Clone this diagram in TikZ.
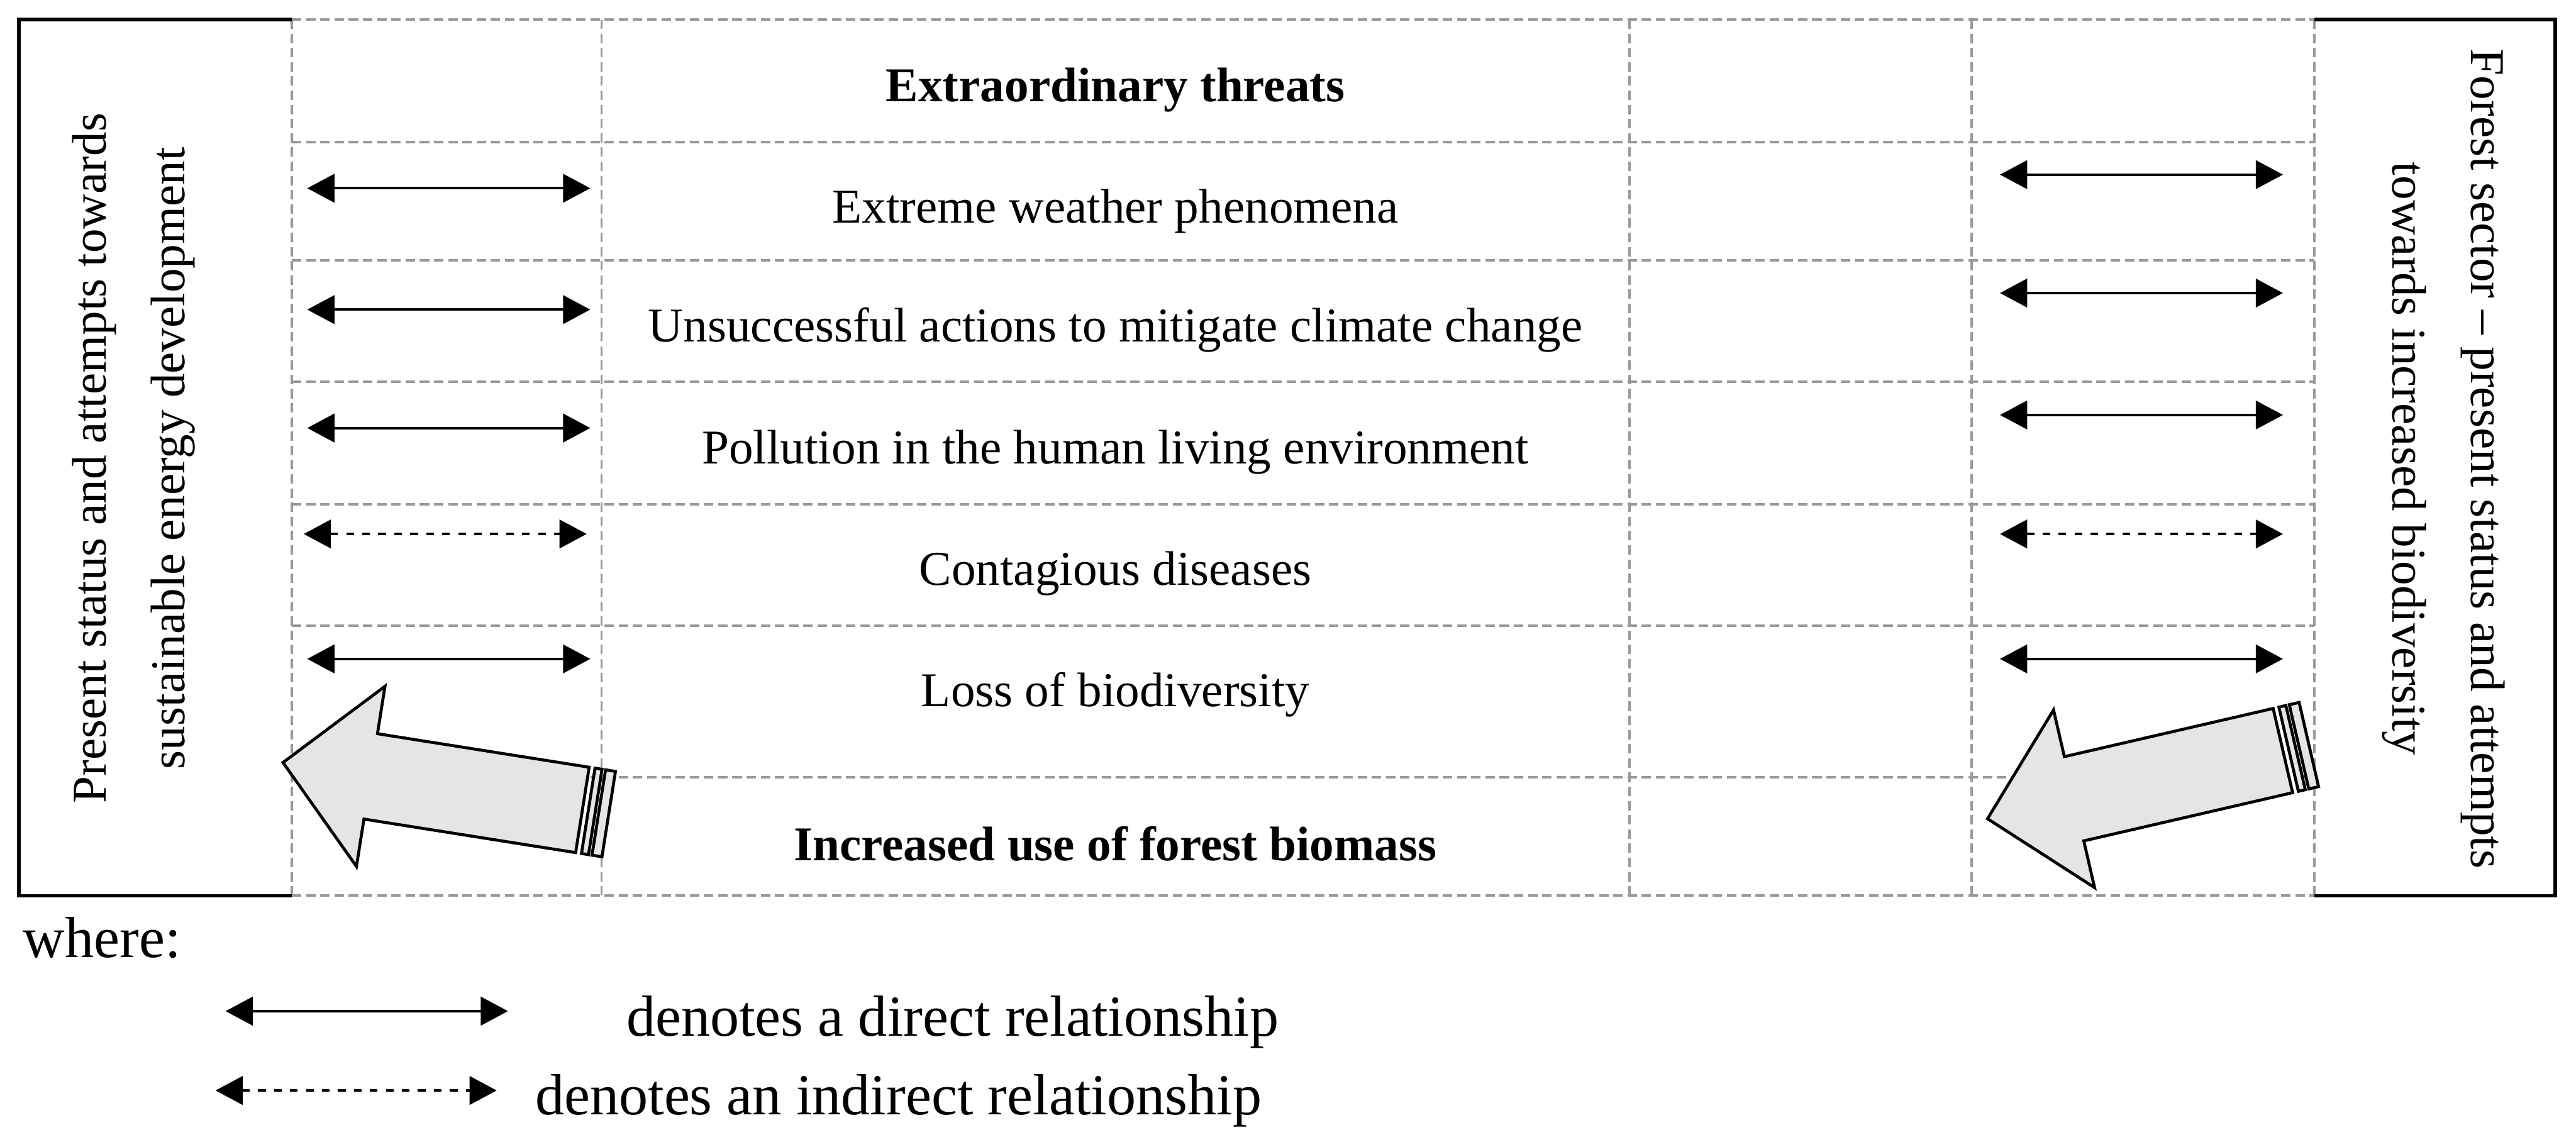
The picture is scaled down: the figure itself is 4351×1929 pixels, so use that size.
\documentclass[tikz,border=0pt]{standalone}
\usepackage{fontspec}
\setmainfont{Liberation Serif}
\usetikzlibrary{arrows.meta}
\begin{document}
\begin{tikzpicture}[x=0.1pt,y=-0.1pt,
  grid/.style={draw=black!40, line width=0.4pt, dash pattern=on 1.6pt off 0.8pt},
  frame/.style={draw=black, line width=0.6pt},
  rel/.style={line width=0.45pt, {Triangle[length=4.6pt,width=4.8pt]}-{Triangle[length=4.6pt,width=4.8pt]}},
  indrel/.style={rel, dash pattern=on 1.3pt off 1.4pt},
  txt/.style={font=\fontsize{8.2}{10}\selectfont, inner sep=0pt, anchor=base},
  hd/.style={txt, font=\fontsize{8.2}{10}\selectfont\bfseries},
  vtxt/.style={font=\fontsize{8.2}{13.3}\selectfont, align=center, inner sep=0pt},
  lgd/.style={font=\fontsize{9.8}{12}\selectfont, inner sep=0pt, anchor=base west},
  bigarrow/.style={draw=black, line width=0.5pt, fill=black!10, line join=miter}
]
\useasboundingbox (0,0) rectangle (4351,1929);

% dashed grid
\foreach \y in {33,240,440,645,852,1057,1313,1513}
  \draw[grid] (493,\y) -- (3909,\y);
\foreach \x in {493,1016,2752,3330,3909}
  \draw[grid] (\x,33) -- (\x,1513);

% solid side boxes
\draw[frame] (493,33) -- (32,33) -- (32,1513) -- (493,1513);
\draw[frame] (3909,33) -- (4316,33) -- (4316,1513) -- (3909,1513);

% side texts
\node[vtxt, rotate=90] (L) at (226,774) {Present status and attempts towards\\sustainable energy development};
\node[vtxt, rotate=-90] (R) at (4127,775) {Forest sector – present status and attempts\\towards increased biodiversity};

% row texts
\node[hd] (t0) at (1884,172) {Extraordinary threats};
\node[txt] (t1) at (1884,377) {Extreme weather phenomena};
\node[txt] (t2) at (1884,577) {Unsuccessful actions to mitigate climate change};
\node[txt] (t3) at (1884,783) {Pollution in the human living environment};
\node[txt] (t4) at (1884,988) {Contagious diseases};
\node[txt] (t5) at (1884,1193) {Loss of biodiversity};
\node[hd] (t6) at (1884,1454) {Increased use of forest biomass};

% big striped arrows
\begin{scope}[shift={(478,1288)}, rotate=-9]
  \draw[bigarrow] (0,0) -- (150,-154) -- (150,-73) -- (512,-73) -- (512,73) -- (150,73) -- (150,154) -- cycle;
  \draw[bigarrow] (522,-73) rectangle (534,73);
  \draw[bigarrow] (540,-73) rectangle (557,73);
\end{scope}
\begin{scope}[shift={(3357,1383)}, rotate=13]
  \draw[bigarrow] (0,0) -- (150,-154) -- (150,-73) -- (512,-73) -- (512,73) -- (150,73) -- (150,154) -- cycle;
  \draw[bigarrow] (522,-73) rectangle (534,73);
  \draw[bigarrow] (540,-73) rectangle (557,73);
\end{scope}

% relationship arrows, left column
\coordinate (la1) at (519,318);  \coordinate (lb1) at (997,318);
\coordinate (la2) at (519,523);  \coordinate (lb2) at (997,523);
\coordinate (la3) at (519,723);  \coordinate (lb3) at (997,723);
\coordinate (la4) at (513,902);  \coordinate (lb4) at (991,902);
\coordinate (la5) at (519,1113); \coordinate (lb5) at (997,1113);
\draw[rel] (la1) -- (lb1);
\draw[rel] (la2) -- (lb2);
\draw[rel] (la3) -- (lb3);
\draw[indrel] (la4) -- (lb4);
\draw[rel] (la5) -- (lb5);

% relationship arrows, right column
\coordinate (ra1) at (3378,295);  \coordinate (rb1) at (3856,295);
\coordinate (ra2) at (3378,495);  \coordinate (rb2) at (3856,495);
\coordinate (ra3) at (3378,701);  \coordinate (rb3) at (3856,701);
\coordinate (ra4) at (3378,902);  \coordinate (rb4) at (3856,902);
\coordinate (ra5) at (3378,1113); \coordinate (rb5) at (3856,1113);
\draw[rel] (ra1) -- (rb1);
\draw[rel] (ra2) -- (rb2);
\draw[rel] (ra3) -- (rb3);
\draw[indrel] (ra4) -- (rb4);
\draw[rel] (ra5) -- (rb5);

% legend
\node[lgd] (where) at (37,1617) {where:};
\coordinate (d1) at (381,1708); \coordinate (d2) at (858,1708);
\draw[rel] (d1) -- (d2);
\node[lgd] (ld) at (1056,1750) {denotes a direct relationship};
\coordinate (i1) at (364,1842); \coordinate (i2) at (839,1842);
\draw[indrel] (i1) -- (i2);
\node[lgd] (li) at (902,1883) {denotes an indirect relationship};
\end{tikzpicture}
\end{document}
